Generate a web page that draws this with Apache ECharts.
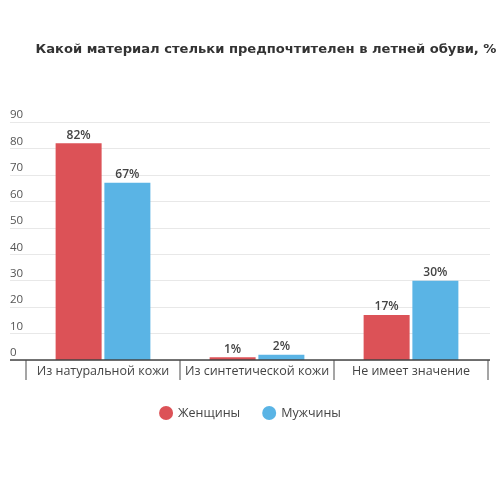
<!DOCTYPE html>
<html>
<head>
<meta charset="utf-8">
<style>
  html, body { margin: 0; padding: 0; background: #fff; }
  #chart { width: 500px; height: 500px; }
</style>
</head>
<body>
<div id="chart"></div>
<script src="https://cdn.jsdelivr.net/npm/echarts@6/dist/echarts.min.js"></script>
<script>
var categories = ['Из натуральной кожи', 'Из синтетической кожи', 'Не имеет значение'];
var women = [82, 1, 17];
var men = [67, 2, 30];
var yTicks = [0, 10, 20, 30, 40, 50, 60, 70, 80, 90];

var chart = echarts.init(document.getElementById('chart'));

var option = {
    backgroundColor: '#fff',
    animation: false,
    title: {
        text: 'Какой материал стельки предпочтителен в летней обуви, %',
        left: 261,
        top: 38,
        textAlign: 'center',
        textStyle: { fontFamily: 'DejaVu Sans', fontSize: 13.1, fontWeight: 'bold', color: '#333' }
    },
    legend: {
        data: ['Женщины', 'Мужчины'],
        top: 401,
        left: 'center',
        icon: 'circle',
        itemWidth: 14,
        itemHeight: 14,
        itemGap: 22,
        textStyle: { fontFamily: 'Open Sans', fontSize: 12.5, color: '#444' }
    },
    grid: [
        // background grid for the y split lines + labels
        { left: 10, right: 10, top: 122, bottom: 140 },
        // bars
        { left: 26, right: 12, top: 122, bottom: 140 }
    ],
    xAxis: [
        { gridIndex: 0, type: 'value', show: false },
        {
            gridIndex: 1,
            type: 'category',
            data: categories,
            axisLine: { show: false },
            axisTick: { show: true, interval: 0, length: 20, lineStyle: { color: '#888', width: 1.5 } },
            axisLabel: { interval: 0, fontFamily: 'Open Sans', fontSize: 12.5, color: '#444', margin: 5 }
        }
    ],
    yAxis: [
        {
            gridIndex: 0,
            type: 'value',
            min: 0, max: 90, interval: 10,
            axisLine: { show: false },
            axisTick: { show: false },
            splitLine: { lineStyle: { color: '#e8e8e8', width: 1 } },
            axisLabel: {
                inside: true,
                margin: 0,
                verticalAlign: 'bottom',
                padding: [0, 0, 1, 0],
                fontFamily: 'Open Sans',
                fontSize: 11.5,
                color: '#555',
                formatter: function (v) { return yTicks.indexOf(v) >= 0 ? String(v) : ''; }
            }
        },
        {
            gridIndex: 1,
            type: 'value',
            min: 0, max: 90, interval: 10,
            show: false
        }
    ],
    series: [
        {
            // baseline across the full width
            type: 'line',
            xAxisIndex: 0, yAxisIndex: 0,
            data: [],
            silent: true,
            markLine: {
                symbol: 'none',
                silent: true,
                label: { show: false },
                lineStyle: { color: '#444', width: 1.5, type: 'solid' },
                data: [{ yAxis: 0 }]
            }
        },
        {
            name: 'Женщины',
            type: 'bar',
            xAxisIndex: 1, yAxisIndex: 1,
            data: women,
            barWidth: 46,
            barGap: '6%',
            itemStyle: { color: '#dc5257' },
            label: {
                show: true, position: 'top', distance: 2,
                formatter: '{c}%',
                fontFamily: 'Open Sans', fontSize: 12, fontWeight: 600, color: '#444'
            }
        },
        {
            name: 'Мужчины',
            type: 'bar',
            xAxisIndex: 1, yAxisIndex: 1,
            data: men,
            barWidth: 46,
            itemStyle: { color: '#5ab4e5' },
            label: {
                show: true, position: 'top', distance: 2,
                formatter: '{c}%',
                fontFamily: 'Open Sans', fontSize: 12, fontWeight: 600, color: '#444'
            }
        }
    ]
};

chart.setOption(option);
</script>
</body>
</html>
